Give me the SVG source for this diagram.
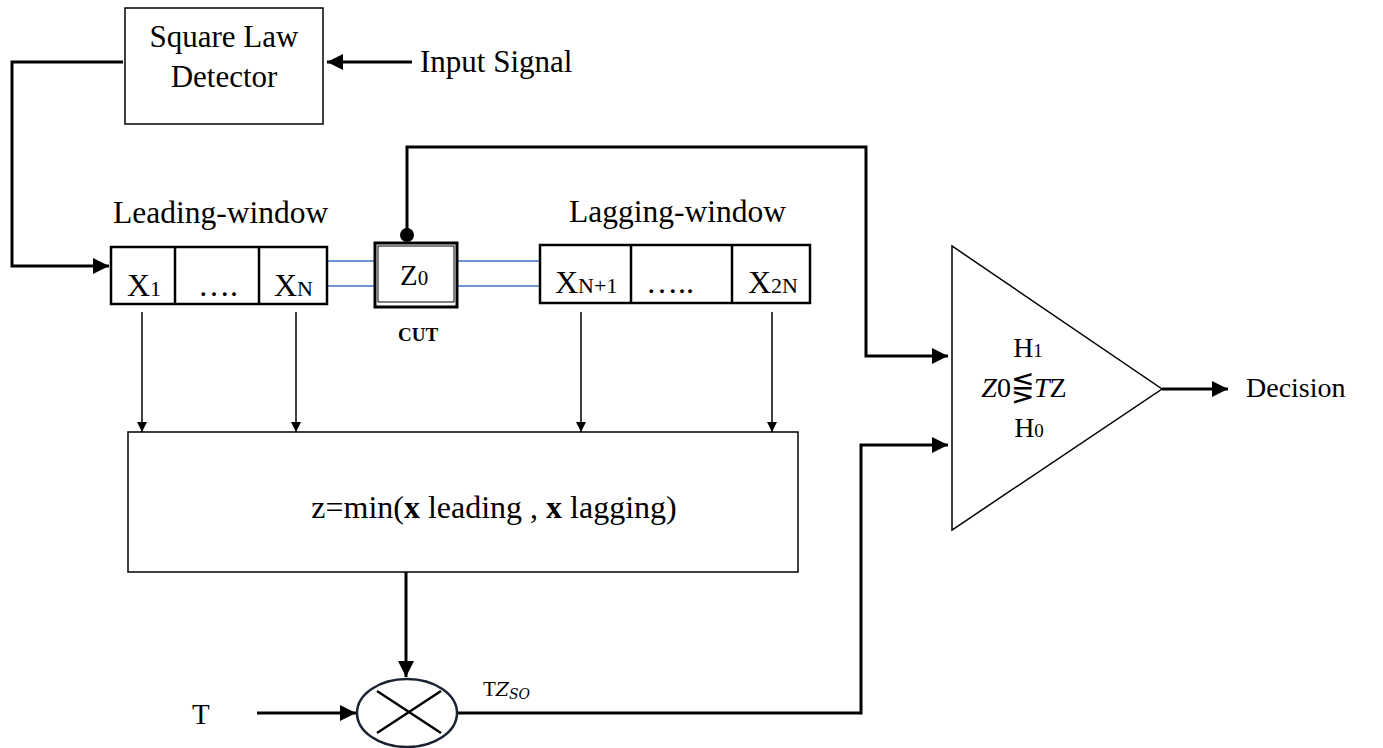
<svg xmlns="http://www.w3.org/2000/svg" width="1383" height="748" viewBox="0 0 1383 748">
<defs>
<style>
.box{fill:#fff;stroke:#000;stroke-width:1.5}
.cell{fill:#fff;stroke:#000;stroke-width:2.5}
.t{font-family:"Liberation Serif",serif;fill:#000}
.thick{fill:none;stroke:#000;stroke-width:3}
.thin{fill:none;stroke:#000;stroke-width:1.5}
.blue{fill:none;stroke:#4472C4;stroke-width:1.5}
</style>
<marker id="big" viewBox="0 0 10 10" refX="10" refY="5" markerWidth="16" markerHeight="16" markerUnits="userSpaceOnUse" orient="auto"><path d="M0,0 L10,5 L0,10 z" fill="#000"/></marker>
<marker id="mid" viewBox="0 0 10 10" refX="10" refY="5" markerWidth="10" markerHeight="10" markerUnits="userSpaceOnUse" orient="auto"><path d="M0,0 L10,5 L0,10 z" fill="#000"/></marker>
</defs>
<rect width="1383" height="748" fill="#fff"/>

<g id="connectors">
<path class="thick" d="M123,62 H12 V266 H109" marker-end="url(#big)"/>
<path class="thick" d="M412,62 H327" marker-end="url(#big)"/>
<path class="thick" d="M407,236 V147 H866 V356 H948" marker-end="url(#big)"/>
<circle cx="407" cy="235" r="7" fill="#000"/>
<path class="thick" d="M457,713 H861 V445 H948" marker-end="url(#big)"/>
<path class="thick" d="M406,572 V677" marker-end="url(#big)"/>
<path class="thick" d="M257,713 H356" marker-end="url(#big)"/>
<path class="thick" d="M1162,389 H1228" stroke-width="2" marker-end="url(#big)"/>
<path class="thin" d="M142,312 V432" marker-end="url(#mid)"/>
<path class="thin" d="M296,312 V432" marker-end="url(#mid)"/>
<path class="thin" d="M581,312 V432" marker-end="url(#mid)"/>
<path class="thin" d="M772,312 V432" marker-end="url(#mid)"/>
<path class="blue" d="M327,261 H374 M327,286 H374 M457,261 H540 M457,286 H540"/>
</g>

<g id="square-law-detector">
<rect class="box" x="125" y="8" width="198" height="116"/>
<text class="t" x="224" y="47" font-size="31" text-anchor="middle">Square Law</text>
<text class="t" x="224" y="87" font-size="31" text-anchor="middle">Detector</text>
</g>
<text class="t" x="420" y="72" font-size="31">Input Signal</text>

<g id="leading-window">
<text class="t" x="113" y="223" font-size="31.5">Leading-window</text>
<rect class="cell" x="111" y="247" width="216" height="57"/>
<line class="cell" x1="175" y1="247" x2="175" y2="304"/>
<line class="cell" x1="259" y1="247" x2="259" y2="304"/>
<text class="t" x="127" y="296" font-size="32">X<tspan font-size="22">1</tspan></text>
<text class="t" x="218" y="296" font-size="32" text-anchor="middle">….</text>
<text class="t" x="274" y="296" font-size="32">X<tspan font-size="22">N</tspan></text>
</g>

<g id="cut">
<rect x="375" y="243" width="82" height="64" fill="#fff" stroke="#000" stroke-width="3"/>
<rect x="378" y="246" width="76" height="56" fill="none" stroke="#000" stroke-width="1"/>
<text class="t" x="400" y="285" font-size="29">Z<tspan font-size="21">0</tspan></text>
<text class="t" x="418" y="341" font-size="19" font-weight="bold" text-anchor="middle">CUT</text>
</g>

<g id="lagging-window">
<text class="t" x="569" y="222" font-size="31.5">Lagging-window</text>
<rect class="cell" x="540" y="245" width="270" height="58"/>
<line class="cell" x1="631" y1="245" x2="631" y2="303"/>
<line class="cell" x1="732" y1="245" x2="732" y2="303"/>
<text class="t" x="555" y="293" font-size="32">X<tspan font-size="22">N+1</tspan></text>
<text class="t" x="670" y="293" font-size="32" text-anchor="middle">…..</text>
<text class="t" x="748" y="293" font-size="32">X<tspan font-size="22">2N</tspan></text>
</g>

<g id="min-block">
<rect class="box" x="128" y="432" width="670" height="140"/>
<text class="t" x="494" y="518" font-size="32" text-anchor="middle">z=min(<tspan font-weight="bold">x</tspan> leading , <tspan font-weight="bold">x</tspan> lagging)</text>
</g>

<g id="multiplier">
<ellipse cx="407" cy="713" rx="50" ry="34" fill="#fff" stroke="#1a2332" stroke-width="2.5"/>
<line x1="377" y1="691" x2="441" y2="733" stroke="#000" stroke-width="2.5"/>
<line x1="377" y1="733" x2="441" y2="691" stroke="#000" stroke-width="2.5"/>
</g>
<text class="t" x="192" y="724" font-size="29">T</text>
<text class="t" x="483" y="696" font-size="21">T<tspan font-family="'DejaVu Serif',serif" font-style="italic" font-size="19">Z</tspan><tspan font-family="'DejaVu Serif',serif" font-style="italic" font-size="14" dy="3">SO</tspan></text>

<g id="comparator">
<polygon points="952,246 952,530 1162,389" fill="#fff" stroke="#000" stroke-width="1.5"/>
<text class="t" x="1028" y="357" font-size="28" text-anchor="middle">H<tspan font-size="19">1</tspan></text>
<text class="t" x="1024" y="397" font-size="28" text-anchor="middle"><tspan font-style="italic">Z</tspan>0⋚<tspan font-style="italic">T</tspan>Z</text>
<text class="t" x="1029" y="437" font-size="28" text-anchor="middle">H<tspan font-size="19">0</tspan></text>
</g>
<text class="t" x="1246" y="397" font-size="28">Decision</text>
</svg>
